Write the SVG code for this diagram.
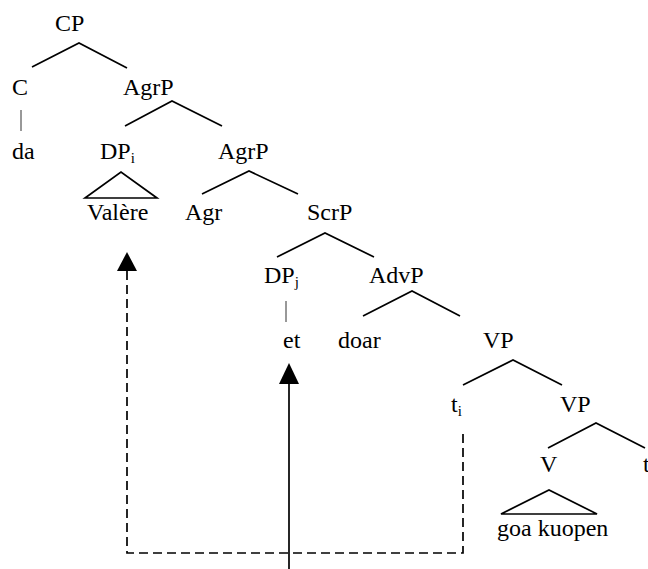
<svg xmlns="http://www.w3.org/2000/svg" width="648" height="569" viewBox="0 0 648 569" font-family="'Liberation Serif', Tinos, 'Nimbus Roman', 'DejaVu Serif', serif">
  <defs>
    <style>
      text { font-family: "Liberation Serif", Tinos, "Nimbus Roman", "DejaVu Serif", serif; font-size: 24px; fill: #000; }
      .sub { font-size: 15px; }
      .edge { stroke: #000; stroke-width: 1.7; fill: none; }
      .thin { stroke: #333; stroke-width: 1; fill: none; }
      .tri { stroke: #000; stroke-width: 1.7; fill: none; stroke-linejoin: miter; }
      .move { stroke: #000; stroke-width: 1.7; fill: none; }
      .dash { stroke-dasharray: 9 5; }
    </style>
  </defs>

  <rect width="648" height="569" fill="#fff"/>

  <!-- tree branches and movement arrows -->
  <g id="connectors">
    <path class="edge" d="M32,67 L79,43 L127,68"/>
    <line class="thin" x1="21" y1="110" x2="21" y2="131"/>
    <path class="edge" d="M125,126 L172,101 L222,126"/>
    <path class="tri" d="M85,198 L121,172 L157,198 Z"/>
    <path class="edge" d="M202,194 L249,171 L298,194"/>
    <path class="edge" d="M277,257 L325,233 L374,257"/>
    <line class="thin" x1="286" y1="301" x2="286" y2="322"/>
    <path class="edge" d="M363,316 L412,291 L460,316"/>
    <path class="edge" d="M463,385 L513,360 L562,385"/>
    <path class="edge" d="M548,448 L596,423 L645,448"/>
    <path class="tri" d="M501,514 L549,490 L597,514 Z"/>

    <!-- dashed chain from t_i back to Valère -->
    <path class="move dash" d="M463,434 L463,553 L127,553 L127,268"/>
    <polygon points="127,252 117,271 137,271" fill="#000"/>

    <!-- solid arrow up to et -->
    <line class="move" x1="289" y1="569" x2="289" y2="380"/>
    <polygon points="289,363 279,384 299,384" fill="#000"/>
  </g>

  <g id="n-CP"><text x="55" y="31">CP</text></g>
  <g id="n-C"><text x="12" y="95">C</text></g>
  <g id="n-AgrP1"><text x="123" y="95">AgrP</text></g>
  <g id="n-da"><text x="12" y="159">da</text></g>
  <g id="n-DPi"><text x="100" y="159">DP<tspan class="sub" dy="4">i</tspan></text></g>
  <g id="n-AgrP2"><text x="218" y="159">AgrP</text></g>
  <g id="n-Valere"><text x="87" y="220">Valère</text></g>
  <g id="n-Agr"><text x="185" y="220">Agr</text></g>
  <g id="n-ScrP"><text x="307" y="220">ScrP</text></g>
  <g id="n-DPj"><text x="264" y="283">DP<tspan class="sub" dy="4">j</tspan></text></g>
  <g id="n-AdvP"><text x="369" y="283">AdvP</text></g>
  <g id="n-et"><text x="283" y="348">et</text></g>
  <g id="n-doar"><text x="338" y="348">doar</text></g>
  <g id="n-VP1"><text x="483" y="348">VP</text></g>
  <g id="n-ti"><text x="451" y="412">t<tspan class="sub" dy="4">i</tspan></text></g>
  <g id="n-VP2"><text x="560" y="412">VP</text></g>
  <g id="n-V"><text x="540" y="472">V</text></g>
  <g id="n-tV"><text x="643" y="472">t</text></g>
  <g id="n-goa"><text x="497" y="536">goa kuopen</text></g>
</svg>
